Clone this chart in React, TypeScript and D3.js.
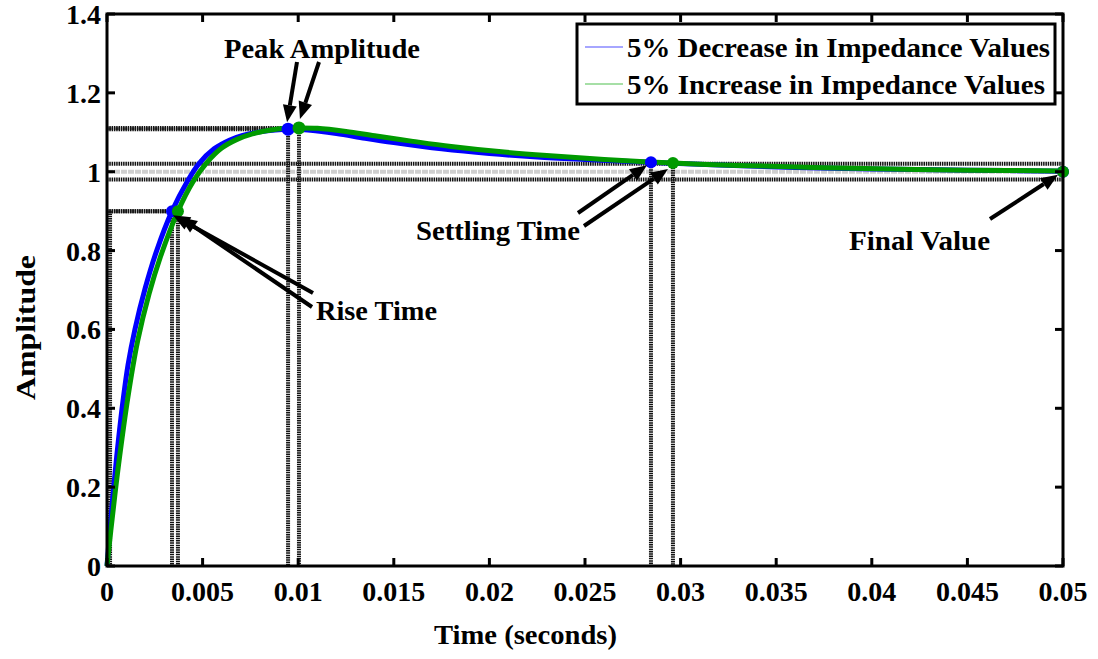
import React from "react";
import * as d3 from "d3";

// Step responses of the two impedance variants
const timeDecrease = [0, 0.0002, 0.0004, 0.0006, 0.00084, 0.0011, 0.00146, 0.002, 0.0026, 0.0034, 0.0042, 0.0048, 0.0056, 0.0064, 0.0071, 0.008, 0.0088, 0.00947, 0.0105, 0.012, 0.0135, 0.015, 0.0175, 0.02, 0.0225, 0.025, 0.02845, 0.032, 0.036, 0.04, 0.045, 0.05];
const ampDecrease = [0, 0.12, 0.225, 0.32, 0.42, 0.51, 0.6, 0.705, 0.8, 0.9, 0.975, 1.02, 1.058, 1.08, 1.092, 1.101, 1.106, 1.108, 1.106, 1.097, 1.085, 1.074, 1.058, 1.046, 1.037, 1.031, 1.024, 1.017, 1.011, 1.007, 1.004, 1.001];

const timeIncrease = [0, 0.0002, 0.0004, 0.0006, 0.0011, 0.0016, 0.0022, 0.0028, 0.00371, 0.0045, 0.0052, 0.006, 0.0068, 0.0076, 0.0085, 0.0093, 0.01004, 0.011, 0.0125, 0.014, 0.016, 0.018, 0.0205, 0.023, 0.026, 0.0296, 0.033, 0.037, 0.041, 0.045, 0.05];
const ampIncrease = [0, 0.09, 0.175, 0.255, 0.43, 0.57, 0.69, 0.785, 0.9, 0.975, 1.022, 1.06, 1.082, 1.096, 1.105, 1.11, 1.111, 1.11, 1.102, 1.091, 1.077, 1.064, 1.051, 1.041, 1.031, 1.022, 1.016, 1.011, 1.007, 1.004, 1.002];

// Response characteristics: [decrease, increase]
const riseLevel = 0.9;
const riseTimes = [0.0034, 0.00371];
const peakTimes = [0.00947, 0.01004];
const peakAmps = [1.108, 1.111];
const settleTimes = [0.02845, 0.0296];
const settleAmps = [1.024, 1.022];
const settleBand = [0.98, 1.02];
const finalTime = 0.05;
const finalValue = 1;
const riseStartTime = 0.00016;

const seriesNames = ["5% Decrease in Impedance Values", "5% Increase in Impedance Values"];
const seriesColors = ["#0000ff", "#009a00"];
const legendColors = ["#8888ff", "#88d488"];

const xTicks = [0, 0.005, 0.01, 0.015, 0.02, 0.025, 0.03, 0.035, 0.04, 0.045, 0.05];
const xTickLabels = ["0", "0.005", "0.01", "0.015", "0.02", "0.025", "0.03", "0.035", "0.04", "0.045", "0.05"];
const yTicks = [0, 0.2, 0.4, 0.6, 0.8, 1, 1.2, 1.4];
const yTickLabels = ["0", "0.2", "0.4", "0.6", "0.8", "1", "1.2", "1.4"];

const W = 1098;
const H = 659;
const left = 107;
const top = 14;
const right = 1063;
const bottom = 566;
const FONT = "'Liberation Serif', 'Times New Roman', serif";

const x = d3.scaleLinear().domain([0, 0.05]).range([left, right]);
const y = d3.scaleLinear().domain([0, 1.4]).range([bottom, top]);

const line = d3
  .line<[number, number]>()
  .x((d) => x(d[0]))
  .y((d) => y(d[1]))
  .curve(d3.curveCatmullRom.alpha(0.5));

const series = [
  d3.zip(timeDecrease, ampDecrease) as [number, number][],
  d3.zip(timeIncrease, ampIncrease) as [number, number][],
];

function Arrow({ x1, y1, x2, y2 }: { x1: number; y1: number; x2: number; y2: number }) {
  const ang = Math.atan2(y2 - y1, x2 - x1);
  const len = 17;
  const hw = 7;
  const bx = x2 - len * Math.cos(ang);
  const by = y2 - len * Math.sin(ang);
  const px = -Math.sin(ang) * hw;
  const py = Math.cos(ang) * hw;
  return (
    <g>
      <line x1={x1} y1={y1} x2={bx} y2={by} stroke="#000" strokeWidth={4} />
      <polygon points={`${x2},${y2} ${bx + px},${by + py} ${bx - px},${by - py}`} fill="#000" />
    </g>
  );
}

function Dotted(props: { x1: number; y1: number; x2: number; y2: number; color?: string }) {
  return (
    <line
      x1={props.x1}
      y1={props.y1}
      x2={props.x2}
      y2={props.y2}
      stroke={props.color || "#111"}
      strokeWidth={4}
      strokeDasharray="1.5 0.8"
    />
  );
}

const boldText = { fontFamily: FONT, fontWeight: 700 } as const;

export default function App() {
  const refLines: JSX.Element[] = [];
  [0, 1].forEach((i) => {
    // rise time
    refLines.push(<Dotted key={`rh${i}`} x1={left} y1={y(riseLevel)} x2={x(riseTimes[i])} y2={y(riseLevel)} />);
    refLines.push(<Dotted key={`rv${i}`} x1={x(riseTimes[i])} y1={y(riseLevel)} x2={x(riseTimes[i])} y2={bottom} />);
    // peak
    refLines.push(<Dotted key={`ph${i}`} x1={left} y1={y(peakAmps[i])} x2={x(peakTimes[i])} y2={y(peakAmps[i])} />);
    refLines.push(<Dotted key={`pv${i}`} x1={x(peakTimes[i])} y1={y(peakAmps[i])} x2={x(peakTimes[i])} y2={bottom} />);
    // settling
    refLines.push(<Dotted key={`sv${i}`} x1={x(settleTimes[i])} y1={y(settleAmps[i])} x2={x(settleTimes[i])} y2={bottom} />);
  });
  refLines.push(<Dotted key="r0" x1={x(riseStartTime)} y1={y(riseLevel)} x2={x(riseStartTime)} y2={bottom} />);
  settleBand.forEach((v, i) =>
    refLines.push(<Dotted key={`sb${i}`} x1={left} y1={y(v)} x2={right} y2={y(v)} />)
  );

  const tickLen = 8;

  return (
    <svg width={W} height={H} style={{ position: "absolute", left: 0, top: 0 }}>
      <rect x={0} y={0} width={W} height={H} fill="#fff" />

      {/* steady-state line */}
      <line x1={left} y1={y(finalValue)} x2={right} y2={y(finalValue)} stroke="#cfcfcf" strokeWidth={4} strokeDasharray="6 1" />
      {refLines}

      {/* responses */}
      {series.map((s, i) => (
        <path key={i} d={line(s) || ""} fill="none" stroke={seriesColors[i]} strokeWidth={5} strokeLinejoin="round" />
      ))}

      {/* characteristic markers */}
      {[0, 1].map((i) => (
        <g key={`m${i}`} fill={seriesColors[i]}>
          <circle cx={x(riseTimes[i])} cy={y(riseLevel)} r={6} />
          <circle cx={x(peakTimes[i])} cy={y(peakAmps[i])} r={6.5} />
          <circle cx={x(settleTimes[i])} cy={y(settleAmps[i])} r={6} />
          <circle cx={x(finalTime)} cy={y(finalValue)} r={6} />
        </g>
      ))}

      {/* axes box */}
      <rect x={left} y={top} width={right - left} height={bottom - top} fill="none" stroke="#000" strokeWidth={3} />
      {xTicks.map((t, i) => (
        <g key={`xt${i}`}>
          <line x1={x(t)} x2={x(t)} y1={bottom} y2={bottom - tickLen} stroke="#000" strokeWidth={3} />
          <line x1={x(t)} x2={x(t)} y1={top} y2={top + tickLen} stroke="#000" strokeWidth={3} />
          <text x={x(t)} y={601} textAnchor="middle" fontSize={28} style={boldText}>
            {xTickLabels[i]}
          </text>
        </g>
      ))}
      {yTicks.map((t, i) => (
        <g key={`yt${i}`}>
          <line x1={left} x2={left + tickLen} y1={y(t)} y2={y(t)} stroke="#000" strokeWidth={3} />
          <line x1={right} x2={right - tickLen} y1={y(t)} y2={y(t)} stroke="#000" strokeWidth={3} />
          <text x={101} y={y(t) + 10} textAnchor="end" fontSize={28} style={boldText}>
            {yTickLabels[i]}
          </text>
        </g>
      ))}

      {/* axis titles */}
      <text x={434} y={644} fontSize={28} style={boldText} textLength={183} lengthAdjust="spacingAndGlyphs">
        Time (seconds)
      </text>
      <text transform="translate(35,400) rotate(-90)" fontSize={28} style={boldText} textLength={145} lengthAdjust="spacingAndGlyphs">
        Amplitude
      </text>

      {/* annotations */}
      <text x={224} y={58} fontSize={27} style={boldText} textLength={196} lengthAdjust="spacingAndGlyphs">
        Peak Amplitude
      </text>
      <Arrow x1={297} y1={62} x2={x(peakTimes[0]) - 1} y2={y(peakAmps[0]) - 7} />
      <Arrow x1={319} y1={62} x2={x(peakTimes[1]) + 1} y2={y(peakAmps[1]) - 9} />

      <text x={316} y={320} fontSize={27} style={boldText} textLength={121} lengthAdjust="spacingAndGlyphs">
        Rise Time
      </text>
      <Arrow x1={313} y1={293} x2={x(riseTimes[0]) + 1} y2={y(riseLevel) + 4} />
      <Arrow x1={312} y1={307} x2={x(riseTimes[1]) + 2} y2={y(riseLevel) + 6} />

      <text x={416} y={240} fontSize={27} style={boldText} textLength={164} lengthAdjust="spacingAndGlyphs">
        Settling Time
      </text>
      <Arrow x1={578} y1={213} x2={x(settleTimes[0]) - 4} y2={y(settleAmps[0]) + 3} />
      <Arrow x1={584} y1={226} x2={x(settleTimes[1]) - 5} y2={y(settleAmps[1]) + 6} />

      <text x={849} y={250} fontSize={27} style={boldText} textLength={141} lengthAdjust="spacingAndGlyphs">
        Final Value
      </text>
      <Arrow x1={990} y1={219} x2={x(finalTime) - 5} y2={y(finalValue) + 3} />

      {/* legend */}
      <rect x={577} y={24} width={478} height={80} fill="#fff" stroke="#000" strokeWidth={3} />
      {seriesNames.map((n, i) => (
        <g key={`lg${i}`}>
          <line x1={585} x2={623} y1={47 + i * 37} y2={47 + i * 37} stroke={legendColors[i]} strokeWidth={1.5} />
          <text x={627} y={57 + i * 37} fontSize={27} style={boldText} textLength={i === 0 ? 423 : 418} lengthAdjust="spacingAndGlyphs">
            {n}
          </text>
        </g>
      ))}
    </svg>
  );
}
